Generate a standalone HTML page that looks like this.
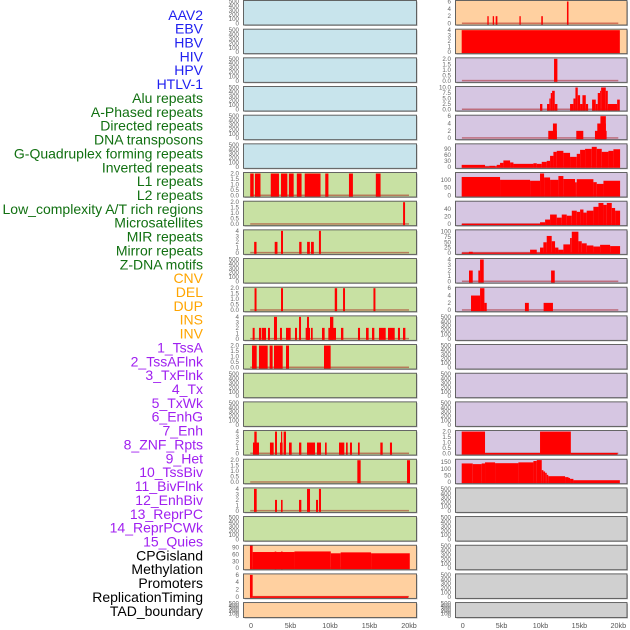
<!DOCTYPE html>
<html><head><meta charset="utf-8"><style>
html,body{margin:0;padding:0;background:#fff;width:630px;height:630px;overflow:hidden}
svg{display:block;font-family:"Liberation Sans",sans-serif}
</style></head><body>
<svg id="chart" width="630" height="630" viewBox="0 0 630 630" xmlns="http://www.w3.org/2000/svg">
<g id="labels"></g>
<g id="panels"></g>
<g id="xaxes"></g>
</svg>
<script>
// ---------- labels ----------
const trackNames = ["AAV2","EBV","HBV","HIV","HPV","HTLV-1","Alu repeats","A-Phased repeats","Directed repeats","DNA transposons","G-Quadruplex forming repeats","Inverted repeats","L1 repeats","L2 repeats","Low_complexity A/T rich regions","Microsatellites","MIR repeats","Mirror repeats","Z-DNA motifs","CNV","DEL","DUP","INS","INV","1_TssA","2_TssAFlnk","3_TxFlnk","4_Tx","5_TxWk","6_EnhG","7_Enh","8_ZNF_Rpts","9_Het","10_TssBiv","11_BivFlnk","12_EnhBiv","13_ReprPC","14_ReprPCWk","15_Quies","CPGisland","Methylation","Promoters","ReplicationTiming","TAD_boundary"];
const trackGroups = [0,0,0,0,0,0,1,1,1,1,1,1,1,1,1,1,1,1,1,2,2,2,2,2,3,3,3,3,3,3,3,3,3,3,3,3,3,3,3,4,4,4,4,4];
const xTickLabels = ["0","5kb","10kb","15kb","20kb"];
const xTickValues = [0,5,10,15,20];

// ---------- panel data (segments: [startKb, endKb, value]) ----------
const empty = [];
const segL6 = [[-0.1,0.34,2],[0.5,1.2,2],[2.5,3.54,2],[3.8,4.6,2],[4.8,5.4,2],[5.8,6.4,2],[6.8,8.8,2],[9.4,9.8,2],[12.4,12.9,2],[15.8,16.4,2]];
const segL7 = [[19.25,19.5,2]];
const segL8 = [[0.4,0.7,2],[3.0,3.35,2],[3.8,4.05,4],[6.1,6.4,2],[7.1,7.45,2],[7.6,7.95,2],[8.6,8.85,4]];
const segL10 = [[0.45,0.7,2],[3.8,4.05,2],[10.6,10.9,2],[11.65,11.9,2],[15.5,15.75,2]];
const segL11 = [[0.21,0.46,2],[1.01,1.27,2],[1.35,1.9,2],[2.15,2.4,2],[2.91,3.29,4],[3.67,3.92,2],[4.43,5.02,2],[5.57,5.82,2],[6.08,6.33,4],[6.92,7.47,2],[7.09,7.34,4],[7.59,7.81,2],[8.99,9.32,2],[9.79,10.76,2],[10.0,10.42,4],[11.39,11.69,2],[13.54,13.8,2],[14.56,14.89,2],[15.32,15.61,2],[16.2,17.05,2],[17.34,18.19,2],[18.6,18.86,2],[19.24,19.54,2]];
const segL12 = [[0.13,0.72,2],[1.01,2.11,2],[2.36,2.74,2],[2.91,4.01,2],[4.43,4.81,2],[9.24,10.08,2]];
const segL15 = [[0.25,1.01,2],[0.42,0.72,4],[2.4,2.87,2],[3.04,3.29,4],[3.67,4.0,2],[3.8,3.95,4],[4.13,4.43,4],[4.81,5.15,2],[6.08,6.37,2],[7.09,8.1,2],[8.35,8.86,2],[9.37,9.58,2],[11.14,11.81,2],[12.03,12.24,2],[12.53,12.78,2],[13.54,13.76,2],[16.37,16.67,2],[17.59,17.85,2]];
const segL16 = [[13.46,13.88,2],[19.75,20.13,2]];
const segL17 = [[0.38,0.72,4],[3.04,3.29,2],[3.8,4.0,2],[6.08,6.37,2],[7.09,7.47,4],[8.23,8.48,2],[8.6,8.86,4]];
const segL19 = [[-0.13,0.21,100],[0.21,5.5,70],[3.0,3.2,72],[3.8,4.0,72],[5.5,10.1,72.5],[10.1,11.35,64.5],[11.35,15.2,68.5],[15.2,20.1,64.5]];
const segL20 = [[-0.13,0.21,6],[0.21,19.9,0.15]];
const segR0 = [[3.17,3.34,2],[3.86,4.03,2],[4.24,4.46,2],[7.29,7.46,2],[10.1,10.3,2],[13.4,13.6,6]];
const segR1 = [[-0.13,20.2,4]];
const segR2 = [[11.74,12.17,2]];
const segR3 = [[9.94,10.24,2.5],[10.84,11.14,2.5],[11.14,11.32,5],[11.32,11.49,7.5],[11.49,11.83,8.5],[11.83,12.17,2.5],[13.8,14.23,2.5],[14.23,14.49,5],[14.49,14.79,10],[14.79,15.09,6.5],[15.09,15.39,2.5],[15.39,15.82,6.5],[15.82,16.12,2.5],[16.63,17.1,4.5],[17.1,17.36,2.5],[17.36,17.66,7.5],[17.66,17.79,8.5],[17.79,18.39,10],[18.39,18.65,8.5],[18.65,19.85,2.5],[19.85,20.19,4.5]];
const segR4 = [[11.0,12.1,2],[11.6,12.1,4],[14.6,15.5,2],[17.0,18.5,2],[17.3,18.4,4],[17.7,18.4,6]];
const segR5 = [[-0.13,2.87,10],[2.87,3.43,2],[3.43,4.16,5],[4.16,4.37,2],[4.37,4.8,10],[4.8,5.23,20],[5.23,6.09,32],[6.09,6.52,22],[6.52,9.09,15],[9.09,9.52,18],[9.52,10.16,15],[10.16,10.8,25],[10.8,11.23,30],[11.23,11.66,55],[11.66,12.09,75],[12.09,12.94,80],[12.94,13.8,70],[13.8,14.66,50],[14.66,15.09,65],[15.09,15.73,85],[15.73,16.59,90],[16.59,17.23,100],[17.23,17.87,90],[17.87,18.73,75],[18.73,19.37,80],[19.37,20.23,88]];
const segR6 = [[-0.13,4.8,118],[4.8,8.66,100],[8.66,9.94,94],[9.94,10.46,140],[10.46,11.23,115],[11.23,12.3,100],[12.3,12.94,124],[12.94,14.44,105],[14.44,14.66,84],[14.66,16.8,104],[16.8,17.23,85],[17.23,18.09,74],[18.09,20.23,94]];
const segR7 = [[-0.13,9.94,1],[9.94,10.59,5],[10.59,11.23,12],[11.23,12.09,25],[12.09,12.73,17],[12.73,13.37,25],[13.37,14.02,22],[14.02,14.66,35],[14.66,15.09,32],[15.09,15.52,38],[15.52,15.94,30],[15.94,16.8,35],[16.8,17.45,45],[17.45,18.09,55],[18.09,18.52,50],[18.52,19.16,55],[19.16,19.59,42],[19.59,20.23,35]];
const segR8 = [[-0.13,20.2,1],[0.8,1.29,5],[8.66,9.52,15],[9.94,10.37,25],[10.37,10.8,50],[10.8,11.44,80],[11.44,11.87,55],[11.87,12.3,25],[12.3,12.94,15],[12.94,13.8,40],[13.8,14.02,70],[14.02,14.87,100],[14.87,15.3,55],[15.3,15.94,45],[15.94,16.8,35],[16.8,17.66,30],[17.66,18.95,38],[18.95,20.23,32]];
const segR9 = [[0.81,1.29,2],[2.01,2.23,2],[2.23,2.7,4],[11.36,11.83,2]];
const segR10 = [[1.07,2.23,4],[2.23,2.79,6],[2.79,3.09,2],[8.0,8.5,2],[10.4,11.6,2]];
const segR15 = [[-0.13,2.87,2],[2.87,9.94,0.05],[9.94,13.9,2],[13.9,19.9,0.05]];
const segR16 = [[-0.13,1.29,140],[1.29,2.44,135],[2.44,2.87,140],[2.87,4.16,148],[4.16,7.16,142],[7.16,9.09,148],[9.09,9.52,158],[9.52,10.16,165],[10.16,10.37,90],[10.37,10.59,80],[10.59,10.8,70],[10.8,11.0,55],[11.0,13.16,45],[13.16,13.6,38],[13.6,13.8,32],[13.8,14.23,25],[14.23,20.2,15]];

// y tick sets
const t500 = [0,100,200,300,400,500];
const t2 = [0,0.5,1.0,1.5,2.0];
const t4 = [0,1,2,3,4];
const t6 = [0,2,4,6];
const t90 = [0,30,60,90];
const t100 = [0,50,100];
const t40 = [0,20,40];
const t25 = [0,25,50,75,100];
const t10 = [0,2.5,5.0,7.5,10.0];
const t150 = [0,50,100,150];

const BG = {b:"#c8e4ec",g:"#c8e1a3",o:"#ffd0a0",p:"#d6c6e2",s:"#d0d0d0"};
const leftPanels = [
 ["b",t500,500,empty],["b",t500,500,empty],["b",t500,500,empty],["b",t500,500,empty],["b",t500,500,empty],["b",t500,500,empty],
 ["g",t2,2,segL6],["g",t2,2,segL7],["g",t4,4,segL8],["g",t500,500,empty],["g",t2,2,segL10],["g",t4,4,segL11],
 ["g",t2,2,segL12],["g",t500,500,empty],["g",t500,500,empty],["g",t4,4,segL15],["g",t2,2,segL16],["g",t4,4,segL17],
 ["g",t500,500,empty],["o",t90,95,segL19],["o",t6,6,segL20],["o",t500,500,empty]
];
const rightPanels = [
 ["o",t6,6,segR0],["o",t4,4,segR1],["p",t2,2,segR2],["p",t10,10,segR3],["p",t6,6,segR4],["p",t90,110,segR5],
 ["p",t100,140,segR6],["p",t40,57,segR7],["p",t25,104,segR8],["p",t4,4,segR9],["p",t6,6,segR10],["p",t500,500,empty],
 ["p",t500,500,empty],["p",t500,500,empty],["p",t500,500,empty],["p",t2,2,segR15],["p",t150,164,segR16],["s",t500,500,empty],
 ["s",t500,500,empty],["s",t500,500,empty],["s",t500,500,empty],["s",t500,500,empty]
];

const NS = "http://www.w3.org/2000/svg";
function mk(tag, attrs, parent){const e=document.createElementNS(NS,tag);for(const k in attrs)e.setAttribute(k,attrs[k]);parent.appendChild(e);return e;}

const labelsG = document.getElementById('labels');
const groupColors = ["#2020f0","#117011","#ffa500","#a020f0","#000000"];
trackNames.forEach((n,i)=>{
  const t = mk('text',{x:203,y:(19.8+13.86*i).toFixed(1),'text-anchor':'end','font-size':'14',fill:groupColors[trackGroups[i]]},labelsG);
  
  
  t.textContent = n;
});

const cols = [
  {panels:leftPanels, x0:243.5, x1:416.5, zero:251, scale:7.9, tickX:239, name:'left'},
  {panels:rightPanels, x0:455.5, x1:627, zero:462.7, scale:7.78, tickX:451, name:'right'}
];
const panelsG = document.getElementById('panels');
const defs = mk('defs',{},panelsG);
cols.forEach((c,ci)=>{
  c.panels.forEach((p,ri)=>{
    const top = 0.5 + 28.67*ri;
    const h = ri===21 ? 15 : 24.5;
    const bot = top + h;
    const g = mk('g',{},panelsG);
    
    
    const clipId = 'clip'+ci+'_'+ri;
    const cp = mk('clipPath',{id:clipId},defs);
    mk('rect',{x:c.x0,y:top,width:c.x1-c.x0,height:h},cp);
    mk('rect',{x:c.x0+1,y:top+1,width:c.x1-c.x0,height:h,fill:'#bbb'},g);
    const bg = mk('rect',{x:c.x0,y:top,width:c.x1-c.x0,height:h,fill:BG[p[0]]},g);
    
    
    const ticks = p[1], ymax = p[2], segs = p[3];
    const y0 = bot - 1.5, yT = top + 1;
    const yScale = v => y0 - (v/ymax)*(y0-yT);
    const xScale = kb => c.zero + kb*c.scale;
    const bars = mk('g',{'clip-path':'url(#'+clipId+')'},g);
    if(segs.length){
      const bl = mk('rect',{x:xScale(-0.1),y:y0-1,width:xScale(20)-xScale(-0.1),height:1.5,fill:'rgba(160,0,0,0.45)'},bars);
      
      
    }
    segs.forEach(s=>{
      const x1 = xScale(s[0]), x2 = xScale(s[1]);
      const yv = yScale(s[2]);
      const r = mk('rect',{x:x1.toFixed(2),y:yv.toFixed(2),width:Math.max(0.8,x2-x1).toFixed(2),height:Math.max(0.5,y0-yv+1).toFixed(2),fill:'#ff0000'},bars);
      
      
    });
    mk('rect',{x:c.x0,y:top,width:c.x1-c.x0,height:h,fill:'none',stroke:'#555','stroke-width':'0.9'},g);
    ticks.forEach(tv=>{
      const ty = yScale(tv);
      const lbl = (p[1]===t2 || p[1]===t10) ? tv.toFixed(1) : String(tv);
      const t = mk('text',{x:c.tickX,y:(ty+2).toFixed(1),'text-anchor':'end','font-size':'6.2',fill:'#666'},g);
      
      
      t.textContent = lbl;
    });
  });
});

const xg = document.getElementById('xaxes');
cols.forEach(c=>{
  xTickValues.forEach((v,i)=>{
    const t = mk('text',{x:(c.zero+v*c.scale).toFixed(1),y:628,'text-anchor':'middle','font-size':'7.2',fill:'#555'},xg);
    
    
    t.textContent = xTickLabels[i];
  });
});
</script>
</body></html>
